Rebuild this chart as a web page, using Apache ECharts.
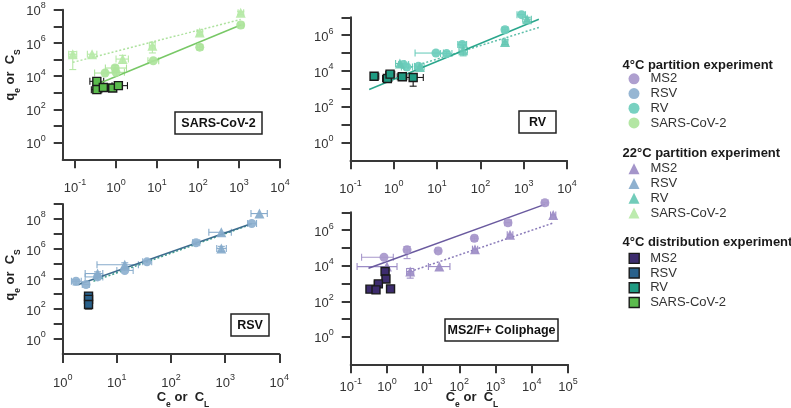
<!DOCTYPE html>
<html><head><meta charset="utf-8">
<script src="https://cdn.jsdelivr.net/npm/echarts@6/dist/echarts.min.js"></script>
<style>html,body{margin:0;padding:0;background:#fff}#c{width:791px;height:408px}</style>
</head><body><div id="c"></div>
<script>
// ---------------- DATA ----------------
const viruses = ['MS2', 'RSV', 'RV', 'SARS-CoV-2'];
const groupTitles = ['4°C partition experiment', '22°C partition experiment', '4°C distribution experiment'];
const panelTitles = ['SARS-CoV-2', 'RV', 'RSV', 'MS2/F+ Coliphage'];

// Panel 1: SARS-CoV-2  [Ce, qe]
const sarsP4 = [[0.54,1.55e4],[0.95,3.1e4],[1.0,1.7e4],[8.1,8.5e4],[110,5.6e5],[1100,1.2e7]];
const sarsP4Err = [[0.30,1.04,null,null],[0.55,1.8,2.0e4,4.5e4],[0.6,1.6,null,null],[6,11,null,null],[95,130,4e5,8e5],[950,1300,null,null]];
const sarsT22 = [[0.088,2.1e5],[0.26,2.1e5],[1.45,1.07e5],[7.7,6.8e5],[110,4.2e6],[1100,6.6e7]];
const sarsT22Err = [[0.07,0.11,2.5e4,3e5],[0.2,0.34,null,null],[1.0,2.0,6e4,1.8e5],[6.5,9,2.5e5,1.1e6],[95,130,3e6,5e6],[950,1300,5e7,8e7]];
const sarsD4 = [[0.34,4.9e3],[0.34,1.55e3],[0.49,2.1e3],[0.83,1.95e3],[1.14,2.7e3]];
const sarsD4Err = [[0.23,0.5,2.5e3,6.5e3],[0.25,0.45,1.0e3,2.2e3],[0.4,0.6,null,null],[0.65,1.0,null,null],[0.8,1.9,2.0e3,3.5e3]];
const sarsFitP4 = [[0.41,3.9e3],[1100,1.2e7]];
const sarsFitT22 = [[0.088,6.8e4],[1100,2.6e7]];

// Panel 2: RV
const rvP4 = [[1.66,2.3e4],[2.0,1.66e4],[3.7,1.8e4],[9.4,1.0e5],[16.6,9.3e4],[38,3.0e5],[370,2.0e6],[890,1.4e7]];
const rvP4Err = [[1.3,2.2,null,null],[1.5,2.7,null,null],[3.0,4.5,null,null],[3.1,14,null,null],[12,22,7e4,1.2e5],[30,48,2.0e5,4.0e5],[320,430,1.5e6,2.6e6],[700,1100,null,null]];
const rvT22 = [[1.38,2.6e4],[4.0,1.66e4],[40,1.45e5],[370,4.2e5],[1200,7.9e6]];
const rvT22Err = [[1.1,1.8,null,null],[3.2,5.0,null,null],[32,50,7e4,2.6e5],[320,430,3e5,5.5e5],[950,1500,6e6,1e7]];
const rvD4 = [[0.35,5.0e3],[0.71,3.8e3],[0.82,6.6e3],[1.57,4.7e3],[2.8,4.3e3]];
const rvD4Err = [[0.31,0.45,3.5e3,6.5e3],[0.55,0.9,null,null],[0.65,1.05,null,null],[1.2,2.0,null,null],[1.9,4.8,1.4e3,5.5e3]];
const rvFitP4 = [[0.27,9.1e2],[2240,7.8e6]];
const rvFitT22 = [[1.66,1.2e4],[2240,2.7e6]];

// Panel 3: RSV
const rsvP4 = [[1.76,7.1e3],[2.7,4.3e3],[4.4,1.38e4],[14,3.7e4],[36,1.4e5],[290,2.6e6],[3100,5.0e7]];
const rsvP4Err = [[1.45,2.2,4e3,9e3],[2.3,3.1,null,null],[2.6,5.5,9e3,2e4],[10,20,null,null],[30,44,null,null],[250,340,2e6,3.3e6],[2600,3800,null,null]];
const rsvT22 = [[4.4,2.3e4],[14,8.9e4],[850,1.3e7],[850,1.1e6],[4300,2.3e8]];
const rsvT22Err = [[2.6,5.5,1.5e4,3e4],[4.3,25,6e4,1.2e5],[500,1300,null,null],[700,1050,7e5,1.5e6],[3000,6000,null,null]];
const rsvD4 = [[3.0,7.2e2],[3.0,4.4e2],[3.0,2.0e2]];
const rsvD4Err = [[null,null,1.0e2,1.2e3],[null,null,null,null],[null,null,null,null]];
const rsvFitP4 = [[1.95,4.3e3],[3100,5.0e7]];
const rsvFitT22 = [[3.7,7.1e3],[3100,4.6e7]];

// Panel 4: MS2
const ms2P4 = [[0.83,3.0e4],[3.6,7.8e4],[26,6.8e4],[260,3.5e5],[2200,2.6e6],[23000,3.4e7]];
const ms2P4Err = [[0.2,1.5,null,null],[3.0,4.3,2.5e4,1.2e5],[22,31,null,null],[220,310,2.5e5,4.5e5],[1800,2700,null,null],[19000,28000,null,null]];
const ms2T22 = [[1.0,8.9e3],[4.4,4.7e3],[28,8.9e3],[270,8.5e4],[2500,5.4e5],[39000,7.1e6]];
const ms2T22Err = [[0.15,1.9,null,null],[3.5,5.5,2.0e3,7.0e3],[14,55,null,null],[230,320,null,null],[2100,3000,null,null],[33000,46000,null,null]];
const ms2D4 = [[0.89,4.7e3],[0.94,1.8e3],[0.58,9.5e2],[0.34,4.8e2],[0.5,4.4e2],[1.26,5.0e2]];
const ms2D4Err = [[0.75,1.05,null,null],[0.8,1.1,null,null],[0.45,0.75,6e2,1.3e3],[0.28,0.42,null,null],[0.4,0.62,3e2,6e2],[1.1,1.45,null,null]];
const ms2FitP4 = [[0.31,7.2e3],[23000,2.8e7]];
const ms2FitT22 = [[4.4,4.7e3],[39000,2.5e6]];

// Axis tick values
const xTicks1 = [0.1,1,10,100,1e3,1e4];
const xTicks2 = [0.1,1,10,100,1e3,1e4];
const xTicks3 = [1,10,100,1e3,1e4];
const xTicks4 = [0.1,1,10,100,1e3,1e4,1e5];
const yTicks1 = [1,10,100,1e3,1e4,1e5,1e6,1e7,1e8];
const yLabels1 = [1,100,1e4,1e6,1e8];
const yTicks2 = [1,10,100,1e3,1e4,1e5,1e6,1e7];
const yLabels2 = [1,100,1e4,1e6];
const yTicks3 = [1,10,100,1e3,1e4,1e5,1e6,1e7,1e8,1e9];
const yLabels3 = [1,100,1e4,1e6,1e8];
const yTicks4 = [1,10,100,1e3,1e4,1e5,1e6,1e7];
const yLabels4 = [1,100,1e4,1e6];

// ---------------- STYLE ----------------
const FONT = '"Liberation Sans", Arial, sans-serif';
const AX = '#383838';
const colP4 = {MS2:'#a797cb', RSV:'#8db0cf', RV:'#6dcdbc', SARS:'#ade49b'};
const colT22 = {MS2:'#9c8cc6', RSV:'#86aacb', RV:'#66c8b4', SARS:'#b6e9a7'};
const colD4 = {MS2:'#3d2c6e', RSV:'#29618b', RV:'#1f9b82', SARS:'#5bbb4d'};

function powLabel(v){ const e = Math.round(Math.log10(v)); return '{b|10}{s|' + e + '}'; }
const labelRich = {
  b:{fontSize:13, fontFamily:FONT, color:'#333', lineHeight:17, verticalAlign:'bottom'},
  s:{fontSize:9, fontFamily:FONT, color:'#333', lineHeight:17, verticalAlign:'top'}
};
function axisCfg(gi, min, max, ticks, labels, margin){
  return {type:'log', logBase:10, gridIndex:gi, min:min, max:max,
    axisLine:{show:true, onZero:false, lineStyle:{color:AX, width:2}},
    axisTick:{show:true, length:9, customValues:ticks, lineStyle:{color:AX, width:2}},
    axisLabel:{customValues:labels, margin:margin, formatter:powLabel, rich:labelRich},
    splitLine:{show:false}, minorTick:{show:false}, minorSplitLine:{show:false}};
}

function errSeries(gi, pts, errs, color){
  return {type:'custom', xAxisIndex:gi, yAxisIndex:gi, silent:true, clip:false, z:1,
    data: pts.map(p => [p[0], p[1]]), encode:{x:0, y:1},
    renderItem: function(params, api){
      const e = errs[params.dataIndex];
      const x = api.value(0), y = api.value(1);
      const c = api.coord([x, y]);
      const kids = []; const cap = 3.5;
      const st = {stroke: color, lineWidth: 1.1};
      if (e && e[0] != null){
        const a = api.coord([e[0], y])[0], b = api.coord([e[1], y])[0];
        kids.push({type:'line', shape:{x1:a, y1:c[1], x2:b, y2:c[1]}, style:st});
        kids.push({type:'line', shape:{x1:a, y1:c[1]-cap, x2:a, y2:c[1]+cap}, style:st});
        kids.push({type:'line', shape:{x1:b, y1:c[1]-cap, x2:b, y2:c[1]+cap}, style:st});
      }
      if (e && e[2] != null){
        const a = api.coord([x, e[2]])[1], b = api.coord([x, e[3]])[1];
        kids.push({type:'line', shape:{x1:c[0], y1:a, x2:c[0], y2:b}, style:st});
        kids.push({type:'line', shape:{x1:c[0]-cap, y1:a, x2:c[0]+cap, y2:a}, style:st});
        kids.push({type:'line', shape:{x1:c[0]-cap, y1:b, x2:c[0]+cap, y2:b}, style:st});
      }
      return {type:'group', children:kids};
    }};
}
function scatter(name, gi, pts, symbol, size, color, border){
  return {type:'scatter', name:name, xAxisIndex:gi, yAxisIndex:gi, data:pts, symbol:symbol, symbolSize:size,
    clip:false, silent:true, z: border ? 5 : 4,
    itemStyle:{color:color, borderColor: border || color, borderWidth: border ? 1.4 : 0, opacity: border ? 1 : 0.92}};
}
function fit(gi, pts, color, dotted){
  return {type:'line', xAxisIndex:gi, yAxisIndex:gi, data:pts, showSymbol:false, symbol:'none', clip:false, silent:true, z:3,
    lineStyle:{color:color, width:1.5, type: dotted ? [2,2] : 'solid'}};
}

function panel(gi, key, vname, p4, p4e, t22, t22e, d4, d4e, fP4, fT22, lineCols){
  return [
    errSeries(gi, p4, p4e, colP4[key]),
    errSeries(gi, t22, t22e, colT22[key]),
    errSeries(gi, d4, d4e, '#1a1a1a'),
    fit(gi, fT22, lineCols[1], true),
    fit(gi, fP4, lineCols[0], false),
    scatter('p4|' + vname, gi, p4, 'circle', 9, colP4[key]),
    scatter('t22|' + vname, gi, t22, 'triangle', 10, colT22[key]),
    scatter('d4|' + vname, gi, d4, 'rect', 8, colD4[key], '#1a1a1a')
  ];
}

const series = [].concat(
  panel(0, 'SARS', 'SARS-CoV-2', sarsP4, sarsP4Err, sarsT22, sarsT22Err, sarsD4, sarsD4Err, sarsFitP4, sarsFitT22, ['#78c866', '#aee29f']),
  panel(1, 'RV', 'RV', rvP4, rvP4Err, rvT22, rvT22Err, rvD4, rvD4Err, rvFitP4, rvFitT22, ['#2aa68c', '#5fbfaa']),
  panel(2, 'RSV', 'RSV', rsvP4, rsvP4Err, rsvT22, rsvT22Err, rsvD4, rsvD4Err, rsvFitP4, rsvFitT22, ['#3d6c8e', '#3fa08c']),
  panel(3, 'MS2', 'MS2', ms2P4, ms2P4Err, ms2T22, ms2T22Err, ms2D4, ms2D4Err, ms2FitP4, ms2FitT22, ['#6a5a9f', '#8a7bb9'])
);

const titleRich = {
  n:{fontSize:13, fontWeight:'bold', fontFamily:FONT, fill:'#222', lineHeight:16, verticalAlign:'top'},
  sb:{fontSize:8.5, fontWeight:'bold', fontFamily:FONT, fill:'#222', lineHeight:19, verticalAlign:'bottom'}
};
const yTitle = '{n|q}{sb|e}{n| or  C}{sb|S}';
const xTitle = '{n|C}{sb|e}{n| or  C}{sb|L}';

function box(x, y, w, h, label){
  return [
    {type:'rect', shape:{x:x, y:y, width:w, height:h}, style:{fill:'#fff', stroke:'#222', lineWidth:1.5}, z:10},
    {type:'text', x:x + w/2, y:y + h/2 + 0.5, z:11, style:{text:label, fill:'#111', font:'bold 12.5px ' + FONT, align:'center', verticalAlign:'middle', textAlign:'center', textVerticalAlign:'middle'}}
  ];
}

const graphics = [].concat(
  box(175, 112, 87, 22, panelTitles[0]),
  box(519, 111, 37, 22, panelTitles[1]),
  box(231, 314, 38, 22, panelTitles[2]),
  box(445, 319, 113, 22, panelTitles[3]),
  [
    {type:'text', x:13, y:75, rotation:Math.PI/2, style:{text:yTitle, rich:titleRich, align:'center', verticalAlign:'middle', textAlign:'center', textVerticalAlign:'middle'}},
    {type:'text', x:13, y:275, rotation:Math.PI/2, style:{text:yTitle, rich:titleRich, align:'center', verticalAlign:'middle', textAlign:'center', textVerticalAlign:'middle'}},
    {type:'text', x:183, y:400, style:{text:xTitle, rich:titleRich, align:'center', verticalAlign:'middle', textAlign:'center', textVerticalAlign:'middle'}},
    {type:'text', x:472, y:400, style:{text:xTitle, rich:titleRich, align:'center', verticalAlign:'middle', textAlign:'center', textVerticalAlign:'middle'}},
    {type:'text', x:622.5, y:65, style:{text:groupTitles[0], fill:'#1a1a1a', font:'bold 13px ' + FONT, align:'left', verticalAlign:'middle', textAlign:'left', textVerticalAlign:'middle'}},
    {type:'text', x:622.5, y:153.5, style:{text:groupTitles[1], fill:'#1a1a1a', font:'bold 13px ' + FONT, align:'left', verticalAlign:'middle', textAlign:'left', textVerticalAlign:'middle'}},
    {type:'text', x:622.5, y:242.5, style:{text:groupTitles[2], fill:'#1a1a1a', font:'bold 13px ' + FONT, align:'left', verticalAlign:'middle', textAlign:'left', textVerticalAlign:'middle'}}
  ]
);

function legendCfg(prefix, icon, top, itemStyle, size){
  return {show:true, orient:'vertical', left:628.5, top:top, padding:0, itemGap:0,
    itemWidth:size, itemHeight:size, icon:icon, selectedMode:false,
    data: viruses.map(v => prefix + '|' + v),
    formatter: n => '{t|' + n.split('|')[1] + '}',
    itemStyle: itemStyle,
    textStyle:{fontSize:13, fontFamily:FONT, color:'#333', lineHeight:14.7,
      rich:{t:{fontSize:13, fontFamily:FONT, color:'#333', lineHeight:14.7, padding:[0,0,0,6]}}}};
}

const option = {
  animation:false,
  backgroundColor:'#fff',
  grid:[
    {left:62.7, top:9.7, width:217.3, height:149.6},
    {left:350.5, top:17.3, width:216.5, height:143},
    {left:62.7, top:204, width:216.6, height:150},
    {left:350.7, top:212.3, width:217.3, height:152}
  ],
  xAxis:[
    axisCfg(0, 0.05, 1e4, xTicks1, xTicks1, 19),
    axisCfg(1, 0.1, 1e4, xTicks2, xTicks2, 19),
    axisCfg(2, 1, 1e4, xTicks3, xTicks3, 19),
    axisCfg(3, 0.1, 1e5, xTicks4, xTicks4, 13)
  ],
  yAxis:[
    axisCfg(0, 0.1, 1e8, yTicks1, yLabels1, 17),
    axisCfg(1, 0.1, 1e7, yTicks2, yLabels2, 17),
    axisCfg(2, 0.1, 1e9, yTicks3, yLabels3, 17),
    axisCfg(3, 0.0288, 1e7, yTicks4, yLabels4, 17)
  ],
  legend:[
    legendCfg('p4', 'circle', 71.5, {borderWidth:0}, 11),
    legendCfg('t22', 'triangle', 161.5, {borderWidth:0}, 11),
    legendCfg('d4', 'rect', 251, {borderColor:'#1a1a1a', borderWidth:1.4}, 10)
  ],
  graphic: graphics,
  series: series
};

const chart = echarts.init(document.getElementById('c'), null, {renderer:'canvas'});
chart.setOption(option);
</script>
</body></html>
